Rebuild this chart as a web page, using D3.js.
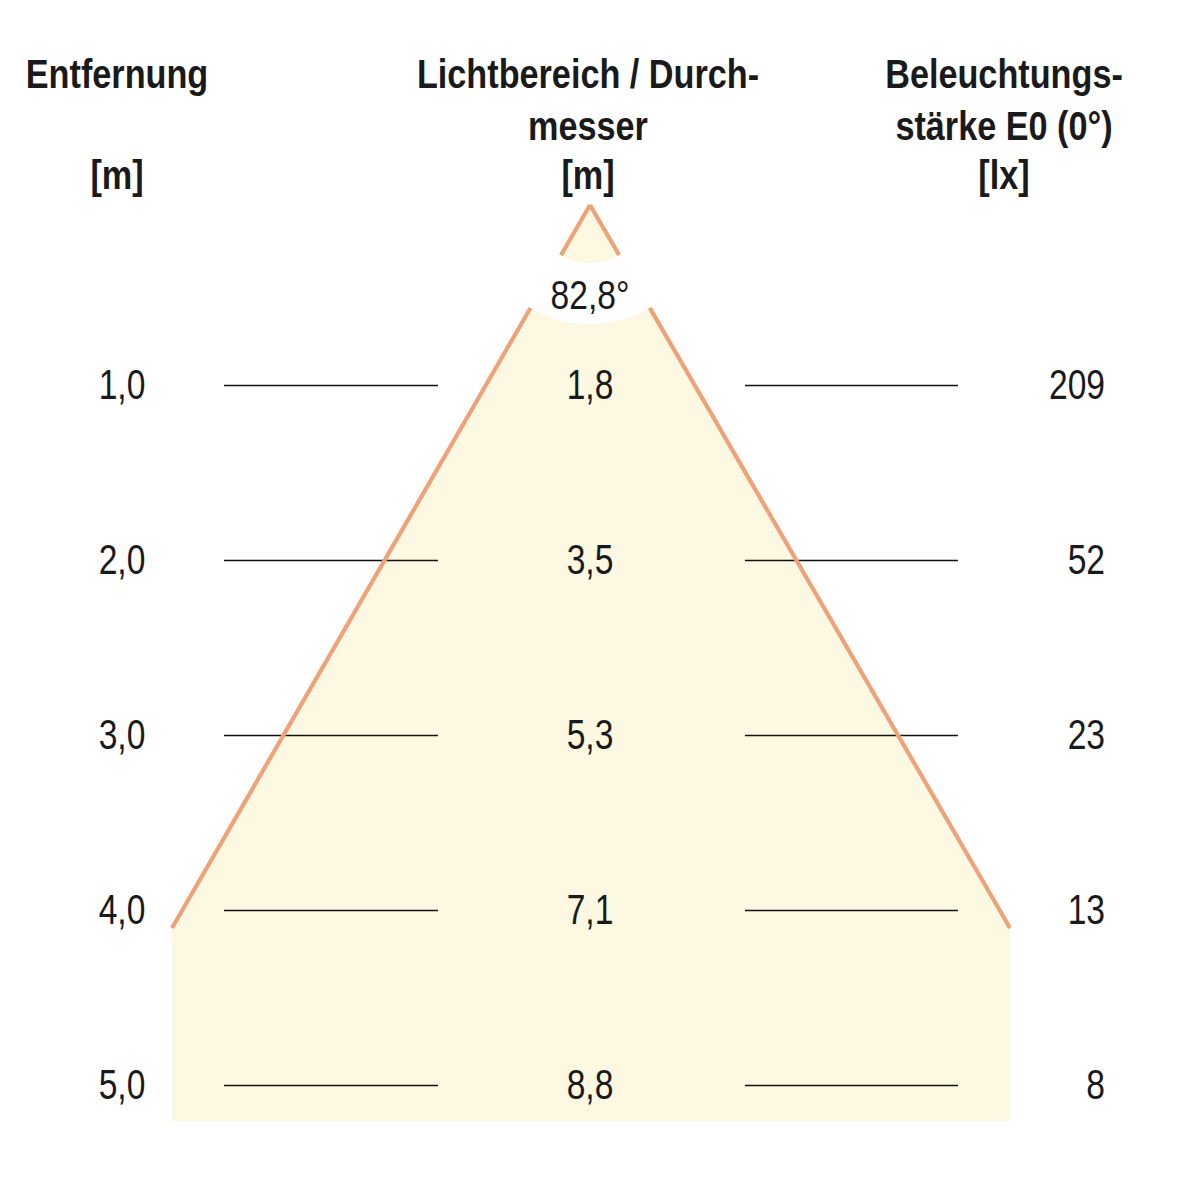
<!DOCTYPE html>
<html>
<head>
<meta charset="utf-8">
<script src="https://cdn.jsdelivr.net/npm/d3@7"></script>
<style>
  html, body { margin: 0; padding: 0; background: #ffffff; }
  svg { display: block; }
</style>
</head>
<body>
<script>
// ---- data ----
const distances = [1.0, 2.0, 3.0, 4.0, 5.0];          // Entfernung [m]
const distanceLabels = ["1,0", "2,0", "3,0", "4,0", "5,0"];
const diameterLabels = ["1,8", "3,5", "5,3", "7,1", "8,8"]; // Lichtbereich / Durchmesser [m]
const luxValues = [209, 52, 23, 13, 8];               // Beleuchtungsstärke E0 (0°) [lx]
const beamAngleLabel = "82,8°";
const headerLeft = ["Entfernung", "", "[m]"];
const headerMid = ["Lichtbereich / Durch-", "messer", "[m]"];
const headerRight = ["Beleuchtungs-", "stärke E0 (0°)", "[lx]"];

// ---- layout ----
const W = 1182, H = 1182;
const svg = d3.select("body").append("svg").attr("width", W).attr("height", H);

const y = d3.scaleLinear().domain([1, 5]).range([385, 1085]);
const cx = 590;
const apex = { x: cx, y: 205 };
const coneEndY = y(4) + 18;           // where the slanted edges stop
const fillBottom = y(5) + 36;
const leftX = 172, rightX = 1010;

const fillColor = "#fdf8e1";
const orange = "#eea27a";

// fill polygon
svg.append("path")
  .attr("d", d3.line()([
    [apex.x, apex.y], [leftX, coneEndY], [leftX, fillBottom],
    [rightX, fillBottom], [rightX, coneEndY]
  ]) + "Z")
  .attr("fill", fillColor);

// horizontal distance lines
const rows = svg.append("g");
distances.forEach((d, i) => {
  rows.append("line").attr("x1", 224).attr("x2", 438)
    .attr("y1", y(d) + 0.5).attr("y2", y(d) + 0.5)
    .attr("stroke", "#111111").attr("stroke-width", 1.3);
  rows.append("line").attr("x1", 745).attr("x2", 958)
    .attr("y1", y(d) + 0.5).attr("y2", y(d) + 0.5)
    .attr("stroke", "#111111").attr("stroke-width", 1.3);
});

// cone edges
svg.append("line").attr("x1", apex.x).attr("y1", apex.y).attr("x2", leftX).attr("y2", coneEndY)
  .attr("stroke", orange).attr("stroke-width", 4.2);
svg.append("line").attr("x1", apex.x).attr("y1", apex.y).attr("x2", rightX).attr("y2", coneEndY)
  .attr("stroke", orange).attr("stroke-width", 4.2);

// white band around the angle label
const band = d3.arc().innerRadius(58).outerRadius(119)
  .startAngle(Math.PI - 0.75).endAngle(Math.PI + 0.75);
svg.append("path").attr("d", band())
  .attr("transform", `translate(${apex.x},${apex.y})`)
  .attr("fill", "#ffffff");

// ---- text helper ----
function txt(x, yy, s, opts) {
  const o = Object.assign({ size: 42, weight: "normal", anchor: "middle", sx: 0.8 }, opts || {});
  svg.append("text")
    .attr("transform", `translate(${x},${yy}) scale(${o.sx},1)`)
    .attr("text-anchor", o.anchor)
    .attr("font-family", "'Liberation Sans', Arial, Helvetica, sans-serif")
    .attr("font-size", o.size)
    .attr("font-weight", o.weight)
    .attr("fill", "#1a1a1a")
    .text(s);
}

// angle label
txt(cx, 309, beamAngleLabel, { size: 41, sx: 0.82 });

// values
distances.forEach((d, i) => {
  txt(122, y(d) + 14, distanceLabels[i]);
  txt(cx, y(d) + 14, diameterLabels[i]);
  txt(1105, y(d) + 14, String(luxValues[i]), { anchor: "end" });
});

// headers
const hb = [88, 140, 189];
const hOpts = { size: 40.5, weight: "bold", sx: 0.845 };
headerLeft.forEach((s, i) => { if (s) txt(117, hb[i], s, hOpts); });
headerMid.forEach((s, i) => txt(588, hb[i], s, hOpts));
headerRight.forEach((s, i) => txt(1004, hb[i], s, hOpts));
</script>
</body>
</html>
